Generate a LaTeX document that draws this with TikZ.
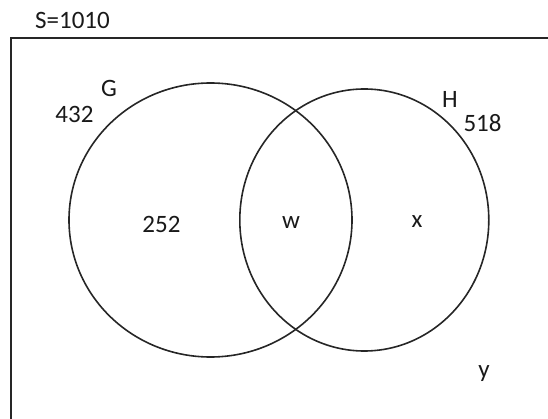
\documentclass[tikz,border=0pt]{standalone}
\usepackage{fontspec}
\setmainfont{Carlito}
\usetikzlibrary{positioning}

\begin{document}
\begin{tikzpicture}[
    x=1pt, y=-1pt,
    setline/.style={line width=1.6pt, draw=black!85},
    frame/.style={line width=2pt, draw=black!85},
    lbl/.style={font=\fontsize{25}{30}\selectfont, text=black!90, inner sep=0pt}
]
  \useasboundingbox (0,0) rectangle (548,419);

  % Universal set
  \node[lbl] (total) at (72.5,20) {S=1010};
  \draw[frame] (548,38) -| (10.5,419);

  % Sets G and H
  \draw[setline] (210.5,220) ellipse [x radius=141.5, y radius=137];
  \draw[setline] (364.3,220) ellipse [x radius=124.5, y radius=131];

  % Set names and totals
  \node[lbl] (gname) at (109,88) {G};
  \node[lbl] (gtotal) at (74.5,114) {432};
  \node[lbl] (hname) at (450,99) {H};
  \node[lbl] (htotal) at (482.5,123) {518};

  % Regions
  \node[lbl] (gonly) at (161.5,224) {252};
  \node[lbl] (both) at (291,223) {w};
  \node[lbl] (honly) at (417,222) {x};
  \node[lbl] (neither) at (484,374) {y};
\end{tikzpicture}
\end{document}
